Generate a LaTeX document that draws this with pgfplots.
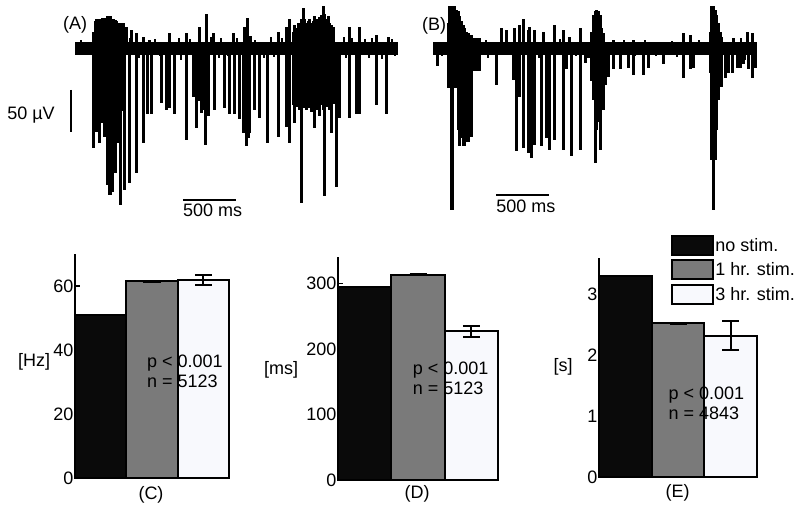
\documentclass[border=0pt]{standalone}
\usepackage{fontspec}
\setmainfont{Liberation Sans}
\usepackage{pgfplots}
\pgfplotsset{compat=1.18}
\definecolor{barblack}{HTML}{0A0A0A}
\definecolor{bargray}{HTML}{7A7A7A}
\definecolor{barwhite}{HTML}{F8F9FD}
\newcommand{\fs}{\fontsize{18}{20}\selectfont}

\pgfplotsset{
  trace/.style={scale only axis, anchor=south west, height=209pt,
    xmin=0, xmax=3050, ymin=-200, ymax=55, axis lines=none, clip=false},
  spike/.style={ycomb, black, line width=3pt, no markers},
  noise/.style={ycomb, black, line width=2pt, no markers},
  panel/.style={scale only axis, anchor=south west, xmin=0.5, xmax=3.5, ymin=0,
    enlargelimits=false, axis x line*=bottom, axis y line*=left, xtick=\empty,
    tick align=inside, major tick length=5pt, axis line style={line width=1.5pt},
    tick style={line width=1.2pt, black}, yticklabel style={inner sep=1.5pt},
    /pgf/number format/assume math mode=true, tick label style={font=\fs}, clip=false},
  bar/.style={ybar, bar width=1, bar shift=0pt, draw=black, line width=2pt, fill=#1, forget plot},
  err/.style={error bars/.cd, y dir=both, y explicit,
    error bar style={line width=2pt, black},
    error mark options={rotate=90, mark size=8.5pt, line width=2pt, black}},
}

\begin{document}
\begin{tikzpicture}[font=\fs]
\useasboundingbox (0,0) rectangle (800pt,510pt);

% (A) raw trace
\begin{axis}[trace, at={(75pt,298pt)}, width=323pt]
\addplot[black, line width=13pt] coordinates {(0,0) (3050,0)};
\addplot[spike] coordinates {(175,-122)(190,-75)(205,-102)(220,-102)(235,-116)(250,-91)(262,-91)(277,-108)(292,-108)(308,-167)(322,-179)(337,-179)(352,-175)(367,-152)(382,-152)(396,-116)(410,-116)(431,-191)(456,-77)(472,-173)(519,-165)(582,-152)(645,-116)(682,-81)(723,-81)(818,-67)(865,-75)(896,-73)(944,-81)(1054,-112)(1120,-60)(1148,-98)(1180,-65)(1195,-79)(1210,-70)(1225,-75)(1236,-118)(1258,-83)(1321,-75)(1415,-73)(1462,-81)(1503,-81)(1557,-87)(1588,-104)(1605,-80)(1620,-120)(1636,-110)(1651,-104)(1698,-75)(1745,-85)(1815,-116)(1918,-108)(1997,-96)(2022,-116)(2060,-70)(2076,-91)(2092,-72)(2108,-70)(2124,-75)(2139,-189)(2155,-73)(2170,-73)(2186,-75)(2202,-73)(2218,-70)(2233,-78)(2249,-72)(2264,-98)(2280,-75)(2296,-72)(2312,-83)(2327,-70)(2343,-75)(2359,-181)(2375,-72)(2390,-70)(2406,-75)(2422,-104)(2437,-68)(2469,-169)(2500,-85)(2595,-85)(2658,-81)(2689,-81)(2846,-69)(2941,-81)};
\addplot[spike] coordinates {(175,20)(190,33)(205,35)(220,35)(235,36)(250,35)(262,37)(277,36)(292,37)(308,39)(322,38)(337,39)(352,36)(367,35)(382,34)(396,33)(410,30)(431,30)(456,30)(487,26)(535,22)(582,18)(645,14)(700,10)(760,8)(896,18)(1054,18)(1179,26)(1242,41)(1305,18)(1494,18)(1604,26)(1626,37)(1660,15)(1918,20)(1997,26)(2029,35)(2060,20)(2076,28)(2092,25)(2108,30)(2124,28)(2139,35)(2155,49)(2170,35)(2186,30)(2202,33)(2218,35)(2233,30)(2249,33)(2264,39)(2280,35)(2296,33)(2312,38)(2327,40)(2343,51)(2359,42)(2375,35)(2390,39)(2406,30)(2422,28)(2437,26)(2595,26)(2689,26)(2846,16)(2956,14)};
\addplot[noise] coordinates {(60,10)(120,-9)(520,12)(600,-12)(760,11)(800,-10)(980,12)(1000,-14)(1090,11)(1280,13)(1360,-12)(1380,12)(1440,-10)(1530,12)(1700,10)(1780,-12)(1850,13)(1880,-11)(1950,12)(2540,14)(2560,-12)(2620,12)(2740,11)(2780,-12)(2800,12)(2900,-13)(2990,11)(3020,-10)};
% scale bars
\addplot[black, line width=2pt] coordinates {(-38,-51) (-38,-102)};
\addplot[black, line width=2pt] coordinates {(1019,-185) (1519,-185)};
\node[anchor=base west, inner sep=0pt] at (axis cs:-113,23) {(A)};
\node[anchor=base west, inner sep=0pt] at (axis cs:-641,-87) {50 µV};
\node[anchor=base west, inner sep=0pt] at (axis cs:1019,-205) {500 ms};
\end{axis}

% (B) raw trace
\begin{axis}[trace, at={(433pt,298pt)}, width=324pt]
\addplot[black, line width=13pt] coordinates {(0,0) (3050,0)};
\addplot[spike] coordinates {(47,-22)(142,-49)(157,-49)(170,-197)(186,-197)(204,-49)(220,-49)(236,-100)(252,-120)(267,-110)(283,-120)(299,-120)(315,-114)(330,-114)(346,-90)(362,-108)(378,-28)(394,-28)(409,-28)(425,-26)(440,-28)(598,-45)(755,-39)(786,-126)(818,-60)(855,-122)(896,-128)(912,-60)(928,-134)(944,-70)(959,-118)(1022,-120)(1069,-110)(1101,-124)(1148,-112)(1227,-124)(1258,-26)(1305,-132)(1384,-124)(1431,-18)(1462,-12)(1494,-40)(1510,-63)(1525,-140)(1541,-100)(1557,-90)(1573,-124)(1588,-75)(1604,-75)(1620,-45)(1651,-35)(1698,-26)(1761,-26)(1840,-24)(1887,-33)(1981,-33)(2028,-24)(2170,-20)(2359,-37)(2422,-26)(2453,-24)(2610,-30)(2626,-136)(2642,-197)(2658,-136)(2673,-100)(2689,-63)(2705,-47)(2720,-47)(2752,-37)(2783,-30)(2815,-30)(2862,-24)(2893,-24)(2925,-20)(2972,-26)(3003,-37)(3035,-24)};
\addplot[spike] coordinates {(142,30)(157,51)(170,51)(186,51)(204,51)(220,47)(236,45)(252,39)(267,33)(283,28)(299,24)(315,20)(330,18)(346,16)(362,16)(378,12)(409,12)(440,12)(645,24)(692,22)(771,24)(818,28)(855,35)(896,22)(912,26)(959,22)(1038,20)(1148,28)(1227,22)(1289,14)(1384,24)(1494,20)(1510,40)(1525,45)(1541,47)(1557,45)(1573,40)(1588,24)(1604,18)(1698,10)(1887,10)(2076,8)(2359,18)(2422,16)(2610,20)(2626,51)(2642,51)(2658,47)(2673,40)(2689,30)(2705,20)(2720,14)(2831,12)(2956,20)(3003,18)};
\addplot[noise] coordinates {(30,8)(80,-10)(500,10)(520,-12)(700,12)(1000,-12)(1200,11)(1350,-10)(1800,10)(1900,-10)(2000,10)(2100,-10)(2250,9)(2300,-11)(2500,10)(2550,-9)(2900,12)(2940,-14)};
\addplot[black, line width=2pt] coordinates {(594,-179) (1094,-179)};
\node[anchor=base west, inner sep=0pt] at (axis cs:-104,22) {(B)};
\node[anchor=base west, inner sep=0pt] at (axis cs:594,-201) {500 ms};
\end{axis}

% (C) firing rate
\begin{axis}[panel, at={(75pt,32pt)}, width=154pt, height=224pt, ymax=70, ytick={0,20,40,60}]
\addplot[bar=barblack] coordinates {(1,51)};
\addplot[bar=bargray, err] coordinates {(2,61.5) +- (0,0.2)};
\addplot[bar=barwhite, err] coordinates {(3,61.8) +- (0,1.6)};
\end{axis}

% (D) duration
\begin{axis}[panel, at={(338pt,30pt)}, width=160pt, height=223pt, ymax=340, ytick={0,100,200,300}]
\addplot[bar=barblack] coordinates {(1,295)};
\addplot[bar=bargray, err] coordinates {(2,313) +- (0,1)};
\addplot[bar=barwhite, err] coordinates {(3,226.5) +- (0,8.5)};
\end{axis}

% (E) interval
\begin{axis}[panel, at={(599pt,32.7pt)}, width=158pt, height=219pt, ymax=3.6, ytick={0,1,2,3},
  legend style={at={(0.455,1.108)}, anchor=north west, draw=none, fill=none,
    inner sep=0pt, row sep=3.5pt, font=\fs, nodes={inner sep=1.2pt}, cells={anchor=west}}]
\addplot[bar=barblack] coordinates {(1,3.31)};
\addplot[bar=bargray, err] coordinates {(2,2.53) +- (0,0.01)};
\addplot[bar=barwhite, err] coordinates {(3,2.33) +- (0,0.235)};
\addlegendimage{legend image code/.code={\draw[fill=barblack, draw=black, line width=2pt] (0pt,-9.5pt) rectangle (41pt,9.5pt);}}
\addlegendentry{no stim.}
\addlegendimage{legend image code/.code={\draw[fill=bargray, draw=black, line width=2pt] (0pt,-9.5pt) rectangle (41pt,9.5pt);}}
\addlegendentry{1 hr. stim.}
\addlegendimage{legend image code/.code={\draw[fill=barwhite, draw=black, line width=2pt] (0pt,-9.5pt) rectangle (41pt,9.5pt);}}
\addlegendentry{3 hr. stim.}
\end{axis}

% axis labels and annotations
\node at (34pt,148pt) {[Hz]};
\node at (281pt,140pt) {[ms]};
\node at (563pt,143pt) {[s]};
\node[anchor=base west, inner sep=0pt] at (147pt,142pt) {p < 0.001};
\node[anchor=base west, inner sep=0pt] at (147pt,122pt) {n = 5123};
\node[anchor=base west, inner sep=0pt] at (412.7pt,135pt) {p < 0.001};
\node[anchor=base west, inner sep=0pt] at (412.7pt,115pt) {n = 5123};
\node[anchor=base west, inner sep=0pt] at (668.3pt,110.7pt) {p < 0.001};
\node[anchor=base west, inner sep=0pt] at (668.3pt,90pt) {n = 4843};
\node[anchor=base] at (151pt,10pt) {(C)};
\node[anchor=base] at (417pt,11pt) {(D)};
\node[anchor=base] at (677.7pt,12pt) {(E)};
\end{tikzpicture}
\end{document}
